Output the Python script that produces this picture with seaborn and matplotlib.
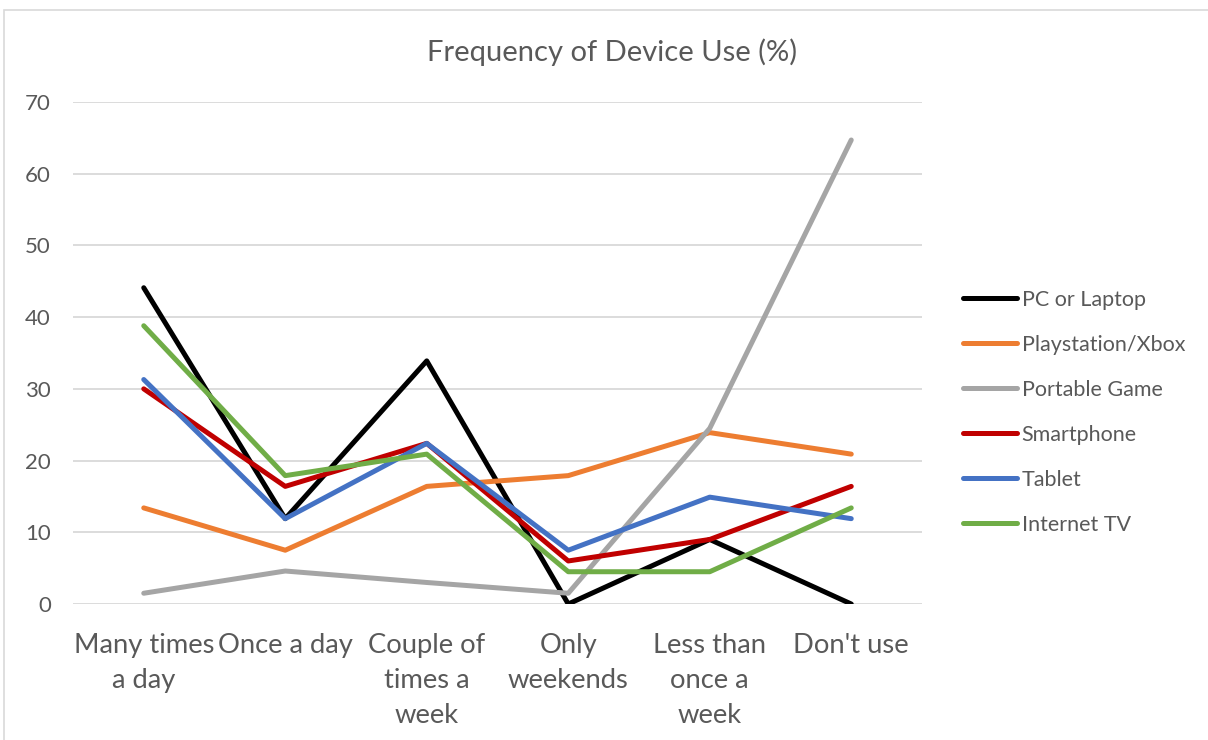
import matplotlib
matplotlib.use("Agg")
import matplotlib.pyplot as plt
import matplotlib.patches as patches
import pandas as pd
import seaborn as sns

# categories (x axis)
categories = ["Many times a day", "Once a day", "Couple of times a week",
              "Only weekends", "Less than once a week", "Don't use"]
tick_labels = ["Many times\na day", "Once a day", "Couple of\ntimes a\nweek",
               "Only\nweekends", "Less than\nonce a\nweek", "Don't use"]

# series values (% of respondents)
pc_laptop = [44.1, 11.9, 33.9, 0.0, 9.0, 0.0]
playstation_xbox = [13.4, 7.5, 16.4, 17.9, 23.9, 20.9]
portable_game = [1.5, 4.6, 3.0, 1.5, 24.5, 64.7]
smartphone = [30.0, 16.4, 22.4, 6.0, 9.0, 16.4]
tablet = [31.3, 11.9, 22.4, 7.5, 14.9, 11.9]
internet_tv = [38.8, 17.9, 20.9, 4.5, 4.5, 13.4]

series_names = ["PC or Laptop", "Playstation/Xbox", "Portable Game",
                "Smartphone", "Tablet", "Internet TV"]
series_values = [pc_laptop, playstation_xbox, portable_game,
                 smartphone, tablet, internet_tv]
colors = ["#000000", "#ED7D31", "#A5A5A5", "#C00000", "#4472C4", "#70AD47"]

rows = []
for name, vals in zip(series_names, series_values):
    for cat, v in zip(categories, vals):
        rows.append({"Frequency": cat, "Percent": v, "Device": name})
df = pd.DataFrame(rows)

sns.set_style("white")
plt.rcParams["font.family"] = ["Lato", "DejaVu Sans"]
txt = "#595959"

fig = plt.figure(figsize=(12.08, 7.40), dpi=100)
ax = fig.add_axes([73 / 1208, 1 - 604 / 740, (922 - 73) / 1208, (604 - 102) / 740])

sns.lineplot(data=df, x="Frequency", y="Percent", hue="Device",
             palette=colors, hue_order=series_names, sort=False,
             linewidth=3.6, ax=ax)

ax.set_ylim(0, 70)
ax.set_xlim(-0.5, 5.5)
ax.set_yticks(range(0, 71, 10))
ax.yaxis.grid(True, color="#D9D9D9", linewidth=1.3)
ax.set_axisbelow(True)
for s in ax.spines.values():
    s.set_visible(False)
ax.set_xticks(range(len(categories)))
ax.set_xticklabels(tick_labels, fontsize=19.7, color=txt, linespacing=1.5)
ax.tick_params(axis="y", labelsize=16, labelcolor=txt, length=0, pad=16)
ax.tick_params(axis="x", length=0, pad=21)
ax.set_xlabel("")
ax.set_ylabel("")

fig.text(612 / 1208, 1 - 52 / 740, "Frequency of Device Use (%)",
         fontsize=21, color=txt, ha="center", va="center")

handles, labels = ax.get_legend_handles_labels()
ax.legend(handles, labels, loc="upper left", bbox_to_anchor=(963 / 1208, 1 - 290 / 740),
          bbox_transform=fig.transFigure, frameon=False, fontsize=15.5,
          borderpad=0, borderaxespad=0,
          handlelength=2.5, handletextpad=0.23, labelspacing=1.16, labelcolor=txt)

# chart area border
fig.patches.append(patches.Rectangle((4 / 1208, -0.1), 1.2, 1.1 - 10 / 740,
                                     transform=fig.transFigure, fill=False,
                                     edgecolor="#D9D9D9", linewidth=1.2))

fig.savefig("out.png", dpi=100)
